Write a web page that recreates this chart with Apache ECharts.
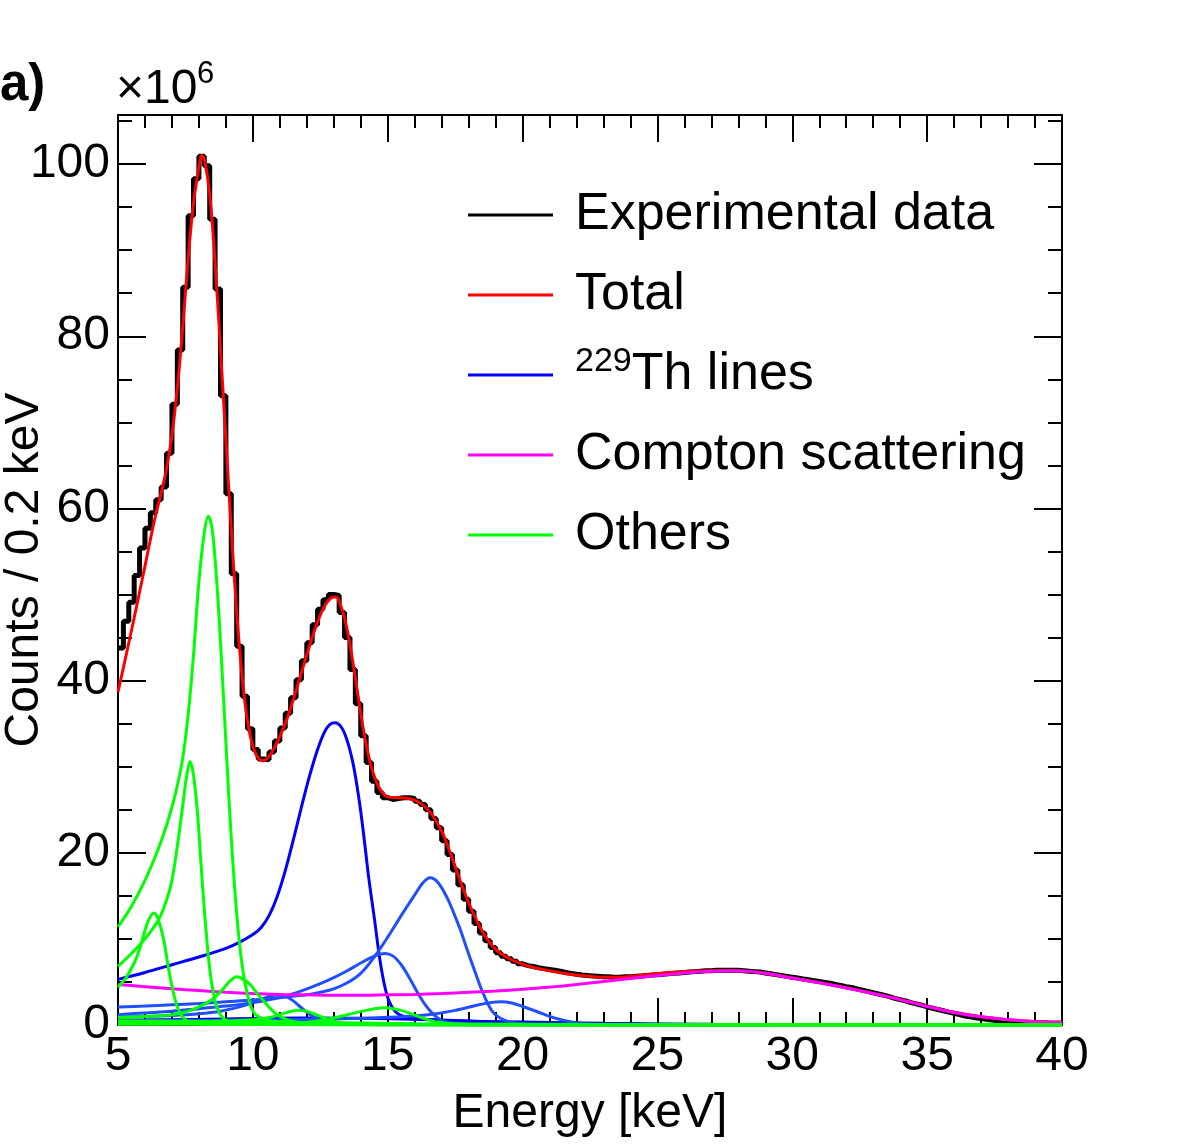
<!DOCTYPE html>
<html>
<head>
<meta charset="utf-8">
<script src="https://cdn.jsdelivr.net/npm/echarts@6/dist/echarts.min.js"></script>
<style>
html, body { margin: 0; padding: 0; background: #fff; }
#chart { width: 1182px; height: 1146px; }
</style>
</head>
<body>
<div id="chart"></div>
<script>
// energy in keV, counts per 0.2 keV bin in units of 1e6
var binStart = 5.0;
var binWidth = 0.2;
var histCounts = [
  43.8, 46.9, 49.1, 52.2, 55.4, 57.7, 59.5, 61.0, 62.5, 66.4,
  72.1, 78.4, 85.7, 94.0, 98.3, 100.9, 99.8, 93.6, 85.5, 73.1,
  61.7, 52.4, 44.0, 38.2, 34.4, 32.0, 30.9, 30.8, 31.7, 33.0,
  34.5, 36.2, 38.0, 40.1, 42.3, 44.4, 46.5, 48.3, 49.4, 50.0,
  49.9, 47.9, 45.0, 41.3, 37.3, 33.6, 30.5, 28.3, 27.0, 26.4,
  26.2, 26.3, 26.4, 26.4, 26.3, 26.0, 25.6, 25.0, 24.0, 22.9,
  21.4, 19.8, 18.0, 16.3, 14.6, 13.2, 11.8, 10.7, 9.8, 9.0,
  8.4, 8.0, 7.7, 7.4, 7.1, 6.9, 6.8, 6.65, 6.55, 6.45,
  6.35, 6.25, 6.1, 6.0, 5.9, 5.8, 5.75, 5.7, 5.65, 5.6,
  5.6, 5.55, 5.55, 5.6, 5.6, 5.65, 5.7, 5.75, 5.8, 5.85,
  5.9, 5.95, 6.0, 6.05, 6.1, 6.15, 6.2, 6.25, 6.3, 6.3,
  6.35, 6.35, 6.35, 6.35, 6.35, 6.3, 6.25, 6.2, 6.15, 6.05,
  5.95, 5.85, 5.75, 5.65, 5.55, 5.45, 5.35, 5.25, 5.15, 5.05,
  4.95, 4.85, 4.7, 4.6, 4.45, 4.35, 4.2, 4.05, 3.9, 3.75,
  3.6, 3.45, 3.3, 3.1, 2.95, 2.8, 2.6, 2.45, 2.3, 2.1,
  1.95, 1.8, 1.65, 1.5, 1.35, 1.2, 1.05, 0.95, 0.85, 0.75,
  0.65, 0.58, 0.5, 0.45, 0.4, 0.36, 0.32, 0.3, 0.27, 0.25,
  0.23, 0.22, 0.21, 0.2, 0.2
];

var totalFit = [[5.0,38.7],[5.2,41.5],[5.4,44.4],[5.6,47.3],[5.8,50.3],[6.0,53.3],[6.2,56.4],[6.4,59.3],[6.6,61.8],[6.8,64.6],[7.0,68.5],[7.2,74.0],[7.4,81.0],[7.6,89.0],[7.8,95.5],[8.0,99.6],[8.1,101.0],[8.2,100.6],[8.4,96.5],[8.6,88.5],[8.8,78.5],[9.0,68.0],[9.2,57.5],[9.4,48.0],[9.6,40.5],[9.8,35.3],[10.0,32.4],[10.2,31.0],[10.4,30.7],[10.6,31.2],[10.8,32.2],[11.0,33.5],[11.2,35.0],[11.4,36.8],[11.6,38.8],[11.8,40.9],[12.0,43.0],[12.2,45.0],[12.4,46.8],[12.6,48.3],[12.8,49.3],[13.0,49.7],[13.1,49.7],[13.2,49.2],[13.4,47.3],[13.6,44.2],[13.8,40.3],[14.0,36.2],[14.2,32.6],[14.4,29.9],[14.6,28.1],[14.8,27.0],[15.0,26.5],[15.4,26.4],[15.8,26.3],[16.2,25.8],[16.6,24.6],[17.0,22.5],[17.2,21.0],[17.4,19.3],[17.6,17.5],[17.8,15.8],[18.0,14.2],[18.2,12.8],[18.4,11.5],[18.6,10.4],[18.8,9.5],[19.0,8.8],[19.4,7.9],[19.8,7.3],[20.2,6.85],[20.6,6.55],[21.0,6.3],[21.5,6.0],[22.0,5.8],[22.5,5.65],[23.0,5.55],[23.5,5.55],[24.0,5.65],[24.5,5.8],[25.0,5.95],[25.5,6.1],[26.0,6.2],[26.5,6.28],[27.0,6.3],[27.5,6.32],[28.0,6.28],[28.5,6.2],[29.0,6.0],[30.0,5.47],[31.0,4.92],[32.0,4.32],[33.0,3.67],[34.0,2.97],[35.0,2.17],[36.0,1.47],[37.0,0.97],[38.0,0.62],[39.0,0.4],[40.0,0.32]];

var compton = [[5,4.7],[6,4.45],[7,4.2],[8,4.0],[9,3.8],[10,3.65],[11,3.55],[12,3.5],[13,3.45],[14,3.45],[15,3.5],[16,3.55],[17,3.65],[18,3.8],[19,3.95],[20,4.15],[21,4.4],[22,4.7],[23,5.05],[24,5.4],[25,5.75],[26,6.05],[27,6.25],[27.8,6.3],[28.5,6.2],[29,6.0],[30,5.45],[31,4.9],[32,4.3],[33,3.65],[34,2.95],[35,2.15],[36,1.45],[37,0.95],[38,0.6],[39,0.38],[40,0.3]];

// 229Th lines
var th130 = [[5.0,5.3],[6.0,6.1],[7.0,7.0],[8.0,7.9],[9.0,8.9],[9.5,9.6],[10.0,10.5],[10.3,11.3],[10.6,12.7],[10.9,14.9],[11.2,17.9],[11.5,21.5],[11.8,25.3],[12.1,28.9],[12.4,32.0],[12.65,34.0],[12.85,34.9],[13.05,35.1],[13.3,34.5],[13.5,33.0],[13.7,30.6],[13.85,28.0],[14.0,24.8],[14.15,21.0],[14.3,17.0],[14.5,12.5],[14.75,6.8],[15.0,3.2],[15.3,1.5],[15.7,0.9],[16.5,0.65],[18.0,0.45],[20.0,0.35],[23.0,0.2],[27.0,0.08],[32.0,0.02],[40.0,0.0]];
var th166 = [[5.0,2.1],[6.0,2.2],[7.0,2.35],[8.0,2.5],[9.0,2.7],[10.0,2.9],[11.0,3.2],[12.0,3.5],[12.5,3.8],[13.0,4.2],[13.5,4.9],[14.0,6.0],[14.5,7.9],[15.0,10.2],[15.5,12.7],[16.0,15.1],[16.3,16.5],[16.57,17.1],[16.85,16.6],[17.2,14.8],[17.45,13.0],[17.7,11.0],[17.95,8.7],[18.2,6.5],[18.55,3.6],[18.9,1.5],[19.3,0.6],[19.8,0.2],[20.5,0.07],[22.0,0.02],[40.0,0.0]];
var th149 = [[5.0,1.2],[6.0,1.4],[7.0,1.6],[8.0,1.9],[9.0,2.2],[10.0,2.6],[11.0,3.2],[11.75,3.9],[12.5,4.8],[13.0,5.5],[13.5,6.3],[14.0,7.2],[14.5,8.0],[14.9,8.3],[15.2,8.0],[15.5,7.0],[15.8,5.5],[16.1,3.8],[16.4,2.3],[16.7,1.2],[17.0,0.55],[17.4,0.2],[18.0,0.07],[20.0,0.02],[40.0,0.0]];
var th109 = [[5.0,0.9],[6.0,1.0],[7.0,1.1],[8.0,1.3],[8.8,1.6],[9.5,2.1],[10.0,2.6],[10.4,3.1],[10.7,3.4],[10.94,3.5],[11.2,3.35],[11.5,2.8],[11.8,2.0],[12.1,1.25],[12.4,0.7],[12.8,0.3],[13.3,0.12],[14.5,0.04],[17.0,0.01],[40.0,0.0]];
var th192 = [[5.0,0.4],[8.0,0.5],[11.0,0.6],[13.0,0.7],[15.0,0.9],[16.5,1.2],[17.5,1.7],[18.3,2.3],[18.8,2.6],[19.2,2.7],[19.6,2.55],[20.0,2.15],[20.5,1.6],[21.0,1.0],[21.5,0.55],[22.0,0.25],[22.5,0.12],[23.5,0.04],[26.0,0.01],[40.0,0.0]];
var thLow = [[5.0,0.55],[8.0,0.65],[11.75,0.8],[15.5,0.7],[19.2,0.35],[22.9,0.15],[26.0,0.05],[30.0,0.01],[40.0,0.0]];

// other lines
var oth84 = [[5.0,11.4],[5.5,13.8],[6.0,16.8],[6.5,20.5],[6.8,23.2],[7.0,25.3],[7.2,27.8],[7.4,31.0],[7.6,36.0],[7.8,43.0],[8.0,51.5],[8.2,57.2],[8.35,59.1],[8.5,57.4],[8.7,49.7],[8.9,38.8],[9.1,27.0],[9.3,17.0],[9.5,9.6],[9.7,5.0],[9.9,2.4],[10.1,1.2],[10.5,0.6],[11.0,0.4],[12.0,0.25],[14.0,0.15],[16.0,0.1],[20.0,0.05],[40.0,0.0]];
var oth77 = [[5.0,6.8],[5.5,8.3],[6.0,10.0],[6.5,12.2],[6.8,14.5],[7.0,16.8],[7.2,20.8],[7.4,25.5],[7.55,29.0],[7.67,30.6],[7.8,29.0],[7.95,24.5],[8.05,20.0],[8.15,15.5],[8.25,11.5],[8.4,6.5],[8.55,3.5],[8.7,1.8],[8.9,0.8],[9.2,0.3],[10.0,0.1],[12.0,0.03],[40.0,0.0]];
var oth63 = [[5.0,4.4],[5.3,5.5],[5.6,7.2],[5.8,8.8],[6.0,11.0],[6.15,12.3],[6.33,13.0],[6.5,12.2],[6.7,9.8],[6.85,7.0],[7.0,4.5],[7.15,2.6],[7.3,1.4],[7.5,0.6],[7.8,0.2],[8.5,0.05],[40.0,0.0]];
var oth94 = [[5.0,0.9],[6.0,1.0],[7.0,1.2],[7.5,1.5],[8.0,2.1],[8.5,3.0],[8.9,4.2],[9.15,5.1],[9.4,5.6],[9.65,5.3],[9.9,4.7],[10.15,3.7],[10.4,2.8],[10.65,1.9],[10.9,1.2],[11.2,0.7],[11.5,0.4],[12.0,0.15],[13.0,0.04],[40.0,0.0]];
var oth117 = [[5.0,0.3],[8.0,0.4],[10.0,0.6],[10.8,1.0],[11.3,1.5],[11.7,1.7],[12.1,1.5],[12.5,1.0],[13.0,0.45],[13.5,0.15],[14.5,0.03],[40.0,0.0]];
var oth149 = [[5.0,0.1],[10.0,0.15],[12.0,0.3],[12.8,0.7],[13.5,1.2],[14.2,1.7],[14.85,2.0],[15.5,1.7],[16.0,1.15],[16.5,0.6],[17.0,0.25],[17.6,0.08],[18.5,0.02],[40.0,0.0]];
var othBase = [[5.0,0.5],[8.0,0.45],[12.0,0.3],[16.0,0.15],[20.0,0.08],[25.0,0.03],[40.0,0.0]];
var othZero = [[5.0,0.15],[10.0,0.1],[20.0,0.03],[40.0,0.0]];

var legendNames = ['Experimental data', 'Total', '229Th lines', 'Compton scattering', 'Others'];

var FONT = '"Liberation Sans", Arial, Helvetica, sans-serif';

var histData = histCounts.map(function(v, i) {
    return [+(binStart + i * binWidth).toFixed(1), v];
});
histData.push([40, histCounts[histCounts.length - 1]]);

function curve(name, data, color, width) {
    return {
        name: name, type: 'line', data: data,
        xAxisIndex: 0, yAxisIndex: 0,
        smooth: 0.35, symbol: 'none', showSymbol: false,
        itemStyle: { color: color },
        lineStyle: { color: color, width: width || 3 },
        emphasis: { disabled: true }
    };
}

function xAx(pos, withLabel) {
    return {
        type: 'value', min: 5, max: 40, interval: 5, position: pos,
        axisLine: { show: true, onZero: false, lineStyle: { color: '#000', width: 2 } },
        axisTick: { show: true, inside: true, length: 27, lineStyle: { color: '#000', width: 2 } },
        minorTick: { show: true, splitNumber: 5, length: 13, lineStyle: { color: '#000', width: 2 } },
        splitLine: { show: false },
        axisLabel: { show: withLabel, fontSize: 48, color: '#000', fontFamily: FONT, margin: 8 },
        name: withLabel ? 'Energy [keV]' : '',
        nameLocation: 'middle', nameGap: 65, nameMoveOverlap: false,
        nameTextStyle: { fontSize: 48, color: '#000', fontFamily: FONT }
    };
}

function yAx(pos, step, tickLen, withLabel) {
    return {
        type: 'value', min: 0, max: 105.7, interval: step, position: pos,
        axisLine: { show: step === 20, onZero: false, lineStyle: { color: '#000', width: 2 } },
        axisTick: { show: true, inside: true, length: tickLen, lineStyle: { color: '#000', width: 2 } },
        splitLine: { show: false },
        axisLabel: {
            show: withLabel, fontSize: 48, color: '#000', fontFamily: FONT, margin: 8,
            showMaxLabel: false,
            formatter: function(v) { return v % 20 === 0 ? String(v) : ''; }
        },
        name: withLabel ? 'Counts / 0.2 keV' : '',
        nameLocation: 'middle', nameGap: 69, nameRotate: 90, nameMoveOverlap: false,
        nameTextStyle: { fontSize: 48, color: '#000', fontFamily: FONT }
    };
}

var chart = echarts.init(document.getElementById('chart'), null, { renderer: 'canvas' });

var option = {
    animation: false,
    backgroundColor: '#fff',
    grid: {
        left: 118, right: 120, top: 115, bottom: 121,
        containLabel: false, outerBoundsMode: 'none',
        show: true, borderColor: '#000', borderWidth: 2, backgroundColor: '#fff'
    },
    xAxis: [xAx('bottom', true), xAx('top', false)],
    yAxis: [yAx('left', 20, 28, true), yAx('right', 20, 28, false), yAx('left', 5, 14, false), yAx('right', 5, 14, false)],
    legend: {
        data: legendNames,
        orient: 'vertical', left: 468, top: 185, padding: 0,
        itemWidth: 85, itemHeight: 3, itemGap: 20,
        icon: 'rect', selectedMode: false,
        textStyle: {
            color: '#000', fontSize: 52, fontFamily: FONT, lineHeight: 60,
            padding: [0, 0, 0, 17],
            rich: {
                big: { fontSize: 52, lineHeight: 60, fontFamily: FONT, color: '#000' },
                sup: { fontSize: 34, lineHeight: 22, verticalAlign: 'top', fontFamily: FONT, color: '#000' }
            }
        },
        formatter: function(name) {
            if (name === '229Th lines') return '{sup|229}{big|Th lines}';
            return '{big|' + name + '}';
        }
    },
    graphic: [
        { type: 'text', x: 0, y: 86, style: { text: 'a)', font: 'bold 51px ' + FONT, fill: '#000', verticalAlign: 'middle', align: 'left' } },
        { type: 'text', x: 116, y: 90, style: { text: '\u00d710', font: '48px ' + FONT, fill: '#000', verticalAlign: 'middle', align: 'left' } },
        { type: 'text', x: 197, y: 74, style: { text: '6', font: '31px ' + FONT, fill: '#000', verticalAlign: 'middle', align: 'left' } }
    ],
    series: [
        {
            name: 'Experimental data', type: 'line', data: histData, step: 'end',
            symbol: 'none', showSymbol: false,
            itemStyle: { color: '#000' },
            lineStyle: { color: '#000', width: 5 },
            emphasis: { disabled: true }
        },
        curve('Total', totalFit, '#ff0000', 3),
        curve('229Th lines', th130, '#0000ff'),
        curve('229Th lines', thLow, '#0000ff'),
        curve('229Th lines', th166, '#1f4fff'),
        curve('229Th lines', th149, '#1f4fff'),
        curve('229Th lines', th109, '#1f4fff'),
        curve('229Th lines', th192, '#1f4fff'),
        curve('Compton scattering', compton, '#ff00ff'),
        curve('Others', oth84, '#00ff00'),
        curve('Others', oth77, '#00ff00'),
        curve('Others', oth63, '#00ff00'),
        curve('Others', oth94, '#00ff00'),
        curve('Others', oth117, '#00ff00'),
        curve('Others', oth149, '#00ff00'),
        curve('Others', othBase, '#00ff00'),
        curve('Others', othZero, '#00ff00')
    ]
};

chart.setOption(option);
</script>
</body>
</html>
